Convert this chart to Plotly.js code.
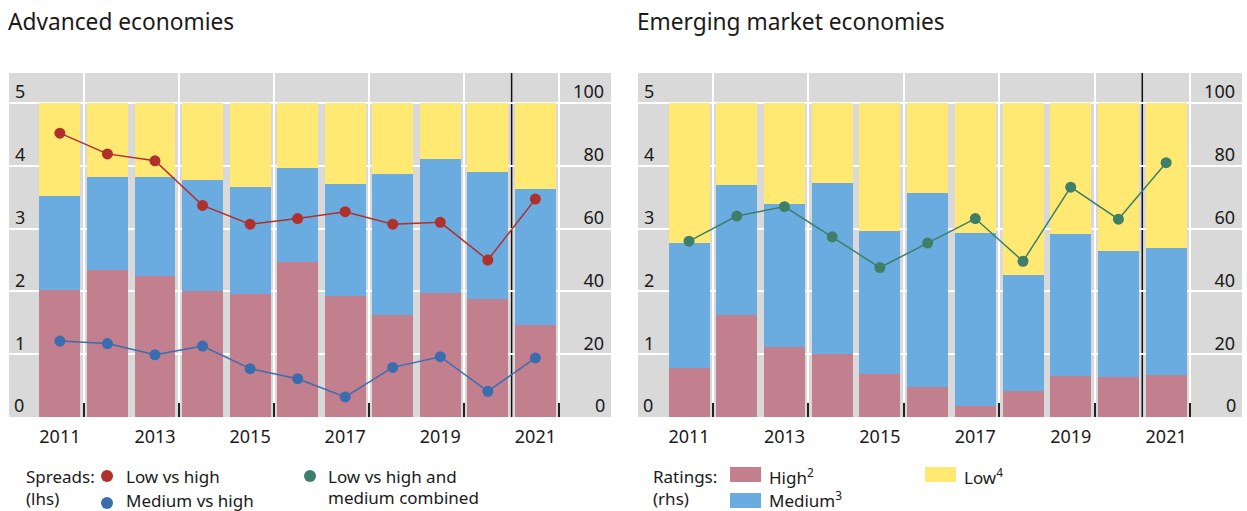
<!DOCTYPE html>
<html>
<head>
<meta charset="utf-8">
<script src="https://cdn.plot.ly/plotly-3.0.1.min.js"></script>
<style>html,body{margin:0;padding:0;background:#fff;}#chart{width:1247px;height:511px;}</style>
</head>
<body>
<div id="chart"></div>
<script>
// ---- Data ----
const years = [2011, 2012, 2013, 2014, 2015, 2016, 2017, 2018, 2019, 2020, 2021];
const yearTicks = [2011, 2013, 2015, 2017, 2019, 2021];
const yearTickText = ['2011', '2013', '2015', '2017', '2019', '2021'];
const gridYears = [2011.5, 2013.5, 2015.5, 2017.5, 2019.5, 2021.5];
const forecastLine = 2020.5;

// Advanced economies: ratings shares (rhs, %)
const aeHigh   = [40.5, 46.9, 45.0, 40.2, 39.2, 49.5, 38.6, 32.5, 39.5, 37.6, 29.3];
const aeMedium = [30.0, 29.4, 31.3, 35.4, 34.1, 29.9, 35.7, 45.0, 42.8, 40.5, 43.4];
const aeLow    = [29.5, 23.7, 23.7, 24.4, 26.7, 20.6, 25.7, 22.5, 17.7, 21.9, 27.3];
// Advanced economies: spreads (lhs)
const aeLowVsHigh    = [4.52, 4.19, 4.08, 3.37, 3.07, 3.16, 3.27, 3.07, 3.10, 2.50, 3.47];
const aeMediumVsHigh = [1.21, 1.17, 0.99, 1.13, 0.77, 0.61, 0.32, 0.79, 0.96, 0.41, 0.94];

// Emerging market economies: ratings shares (rhs, %)
const emHigh   = [15.7, 32.5, 22.3, 20.2, 13.8, 9.4, 3.6, 8.3, 13.2, 12.8, 13.4];
const emMedium = [39.8, 41.5, 45.6, 54.4, 45.5, 62.0, 55.1, 37.0, 45.1, 40.1, 40.5];
const emLow    = [44.5, 26.0, 32.1, 25.4, 40.7, 28.6, 41.3, 54.7, 41.7, 47.1, 46.1];
// Emerging market economies: spread (lhs)
const emLowVsHighMedium = [2.80, 3.20, 3.35, 2.87, 2.38, 2.77, 3.16, 2.48, 3.66, 3.15, 4.05];

const lhsTicks = [0, 1, 2, 3, 4, 5];
const lhsTickText = ['0', '1', '2', '3', '4', '5'];
const rhsTicks = [0, 20, 40, 60, 80, 100];
const rhsTickText = ['0', '20', '40', '60', '80', '100'];

// ---- Styles ----
const C = {
  high: '#c27f8e', medium: '#6aace0', low: '#ffe973',
  red: '#b0302c', blue: '#3a6db0', green: '#3e7f6a',
  grey: '#d9d9d9', text: '#1a1a1a'
};
const FONT = '"Noto Sans", "Open Sans", sans-serif';

const W = 1247, H = 511, ML = 9, MR = 5, MT = 73, MB = 94;
const PW = W - ML - MR, PH = H - MT - MB;
const px = x => (x - ML) / PW;
const py = y => (H - MB - y) / PH;

const barW = 0.86;
function bars(xa, ya, vals, color, name) {
  return {type: 'bar', x: years, y: vals, xaxis: xa, yaxis: ya, name: name,
    marker: {color: color, line: {width: 0}}, width: barW, showlegend: false, hoverinfo: 'x+y'};
}
function line(xa, ya, vals, color, name) {
  return {type: 'scatter', mode: 'lines+markers', x: years, y: vals, xaxis: xa, yaxis: ya, name: name,
    line: {color: color, width: 1.5}, marker: {color: color, size: 11}, showlegend: false};
}

const traces = [
  bars('x', 'y', aeHigh, C.high, 'High'),
  bars('x', 'y', aeMedium, C.medium, 'Medium'),
  bars('x', 'y', aeLow, C.low, 'Low'),
  line('x', 'y2', aeLowVsHigh, C.red, 'Low vs high'),
  line('x', 'y2', aeMediumVsHigh, C.blue, 'Medium vs high'),
  bars('x2', 'y3', emHigh, C.high, 'High'),
  bars('x2', 'y3', emMedium, C.medium, 'Medium'),
  bars('x2', 'y3', emLow, C.low, 'Low'),
  line('x2', 'y4', emLowVsHighMedium, C.green, 'Low vs high and medium combined')
];

const xRange = [2009.93, 2022.59];
const lhsRange = [0, 5.478];
const rhsRange = [0, 109.56];
const tickFont = {family: FONT, size: 18, color: C.text};
// tick labels sit ~11px above their gridline
const LABEL_LIFT_PX = 11;
const lhsLift = LABEL_LIFT_PX / (PH / (lhsRange[1] - lhsRange[0]));
const rhsLift = LABEL_LIFT_PX / (PH / (rhsRange[1] - rhsRange[0]));

function xaxis(domain) {
  return {domain: domain, range: xRange, tickmode: 'array', tickvals: yearTicks, ticktext: yearTickText,
    ticks: '', showgrid: false, zeroline: false, showline: false, tickfont: tickFont,
    ticklabelstandoff: 7,
    minor: {tickmode: 'array', tickvals: gridYears, ticks: 'inside', ticklen: 14, tickwidth: 2,
      tickcolor: '#222', showgrid: true, gridcolor: '#ffffff', gridwidth: 2}};
}
// the "0" labels are drawn as annotations below (Plotly hides inside labels at the edge)
function rhsAxis(anchor) {
  return {anchor: anchor, side: 'right', range: rhsRange, tickmode: 'array',
    tickvals: rhsTicks.slice(1).map(v => v + rhsLift), ticktext: rhsTickText.slice(1),
    ticklabelposition: 'inside', ticklabelstandoff: 4, ticks: '',
    showgrid: false, zeroline: false, showline: false, tickfont: tickFont,
    minor: {tickmode: 'array', tickvals: rhsTicks, ticks: '', showgrid: true, gridcolor: '#ffffff', gridwidth: 2}};
}
function lhsAxis(over, anchor) {
  return {overlaying: over, anchor: anchor, side: 'left', range: lhsRange, tickmode: 'array',
    tickvals: lhsTicks.slice(1).map(v => v + lhsLift), ticktext: lhsTickText.slice(1),
    ticklabelposition: 'inside', ticklabelstandoff: 3, ticks: '',
    showgrid: false, zeroline: false, showline: false, tickfont: tickFont};
}

const ann = [];
function txt(x, y, s, size) {
  ann.push({xref: 'paper', yref: 'paper', x: px(x), y: py(y), xanchor: 'left', yanchor: 'middle',
    text: s, showarrow: false, font: {family: FONT, size: size || 17, color: C.text}});
}
txt(6, 22, 'Advanced economies', 22.7);
txt(635, 22, 'Emerging market economies', 22.7);
txt(24, 476, 'Spreads:');
txt(24, 498, '(lhs)');
txt(124, 476, 'Low vs high');
txt(124, 500, 'Medium vs high');
txt(326, 476, 'Low vs high and');
txt(326, 497, 'medium combined');
txt(651, 476, 'Ratings:');
txt(651, 498, '(rhs)');
txt(767, 476, 'High<sup>2</sup>');
txt(767, 499, 'Medium<sup>3</sup>');
txt(962, 476, 'Low<sup>4</sup>');

function zeroLabel(xref, yref, atRight, label) {
  ann.push({xref: xref + ' domain', yref: yref, x: atRight ? 1 : 0, y: 0,
    xshift: atRight ? -4 : 3, yshift: 12, xanchor: atRight ? 'right' : 'left', yanchor: 'middle',
    text: label, showarrow: false, font: tickFont});
}
zeroLabel('x', 'y2', false, lhsTickText[0]);
zeroLabel('x', 'y', true, rhsTickText[0]);
zeroLabel('x2', 'y4', false, lhsTickText[0]);
zeroLabel('x2', 'y3', true, rhsTickText[0]);

const shapes = [];
function dot(x, y, color) {
  shapes.push({type: 'circle', xref: 'paper', yref: 'paper', xsizemode: 'pixel', ysizemode: 'pixel',
    xanchor: px(x), yanchor: py(y), x0: -6, x1: 6, y0: -6, y1: 6,
    fillcolor: color, line: {width: 0}});
}
function rect(x0, y0, x1, y1, color) {
  shapes.push({type: 'rect', xref: 'paper', yref: 'paper', x0: px(x0), x1: px(x1), y0: py(y1), y1: py(y0),
    fillcolor: color, line: {width: 0}});
}
dot(107, 476, C.red);
dot(107, 503, C.blue);
dot(310, 476, C.green);
rect(730, 467, 761, 482, C.high);
rect(730, 493, 761, 508, C.medium);
rect(925, 467, 956, 482, C.low);
// forecast separator lines
shapes.push({type: 'line', xref: 'x', yref: 'paper', x0: forecastLine, x1: forecastLine, y0: 0, y1: 1,
  line: {color: '#111', width: 1.5}, layer: 'between'});
shapes.push({type: 'line', xref: 'x2', yref: 'paper', x0: forecastLine, x1: forecastLine, y0: 0, y1: 1,
  line: {color: '#111', width: 1.5}, layer: 'between'});

const layout = {
  width: W, height: H,
  margin: {l: ML, r: MR, t: MT, b: MB, pad: 0},
  paper_bgcolor: '#ffffff', plot_bgcolor: C.grey,
  barmode: 'stack', bargap: 0,
  showlegend: false,
  font: {family: FONT, color: C.text},
  xaxis: xaxis([0, px(611)]),
  xaxis2: Object.assign(xaxis([px(638), 1]), {anchor: 'y3'}),
  yaxis: rhsAxis('x'),
  yaxis2: lhsAxis('y', 'x'),
  yaxis3: rhsAxis('x2'),
  yaxis4: lhsAxis('y3', 'x2'),
  annotations: ann,
  shapes: shapes
};

Plotly.newPlot('chart', traces, layout, {displayModeBar: false, staticPlot: true});
</script>
</body>
</html>
